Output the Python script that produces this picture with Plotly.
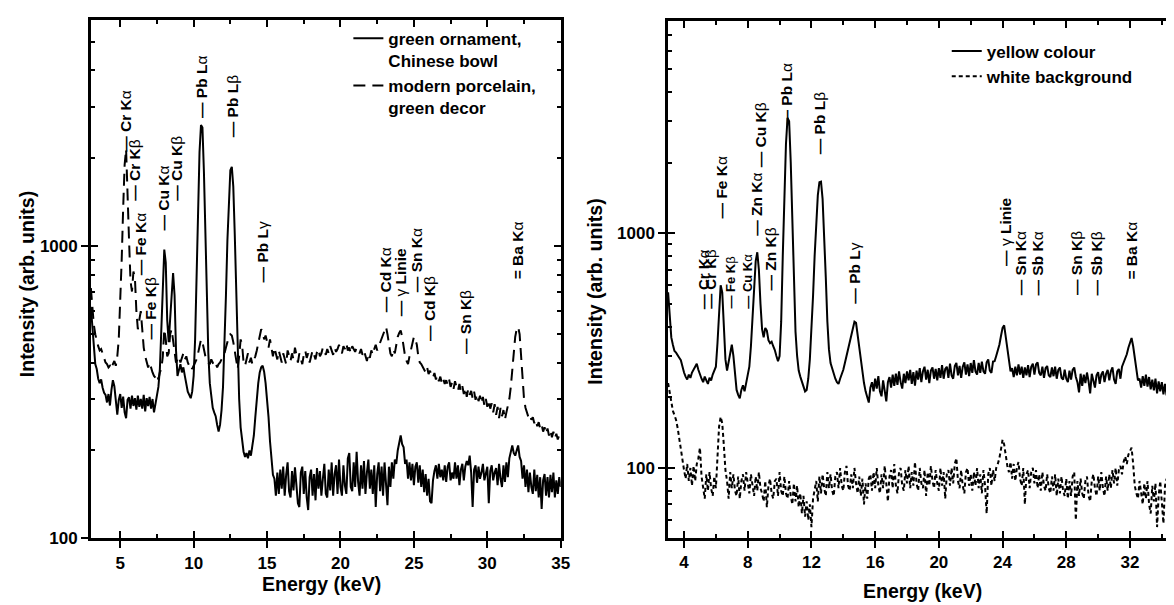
import plotly.graph_objects as go

# ---------------- DATA ----------------
# energy grid (keV), 0.1 keV channels from 3.0 to 35.0
energy = [round(3.0 + 0.1 * i, 1) for i in range(321)]

# Left panel: green ornament, Chinese bowl (solid)
green_ornament = [
    620, 520, 450, 395, 380, 352, 340, 350, 328, 315,
    310, 292, 312, 285, 322, 348, 332, 302, 265, 298,
    312, 280, 306, 270, 258, 298, 304, 278, 308, 284,
    302, 276, 308, 282, 300, 278, 310, 272, 302, 284,
    305, 278, 300, 270, 292, 305, 330, 380, 520, 760,
    975, 880, 560, 470, 560, 720, 810, 680, 440, 360,
    380, 395, 370, 385, 360, 340, 318, 310, 302, 318,
    360, 480, 800, 1350, 2100, 2600, 2550, 1800, 1050, 640,
    430, 340, 300, 280, 270, 262, 245, 232, 245, 275,
    330, 450, 680, 1050, 1500, 1820, 1870, 1600, 1100, 700,
    430, 300, 240, 212, 198, 190, 196, 188, 200, 192,
    205, 225, 260, 300, 340, 370, 385, 390, 372, 340,
    300, 260, 215, 180, 165, 160, 140, 168, 142, 172,
    148, 176, 140, 165, 182, 145, 138, 170, 146, 175,
    150, 132, 128, 168, 176, 142, 170, 138, 125, 162,
    172, 140, 166, 135, 174, 148, 170, 140, 160, 180,
    142, 138, 172, 146, 182, 140, 166, 178, 142, 186,
    150, 140, 178, 152, 142, 188, 196, 150, 145, 182,
    150, 198, 156, 140, 178, 148, 184, 142, 168, 186,
    148, 172, 142, 178, 128, 166, 182, 145, 176, 140,
    182, 150, 130, 176, 150, 182, 160, 186, 180, 200,
    212, 225, 210, 205, 180, 186, 160, 182, 158, 180,
    152, 176, 182, 155, 178, 150, 172, 144, 166, 140,
    160, 134, 132, 158, 170, 178, 160, 180, 162, 172,
    158, 178, 156, 176, 182, 158, 168, 160, 182, 160,
    178, 152, 172, 180, 158, 176, 184, 178, 192, 168,
    128, 172, 178, 155, 176, 160, 168, 180, 158, 166,
    176, 132, 170, 178, 158, 168, 174, 152, 180, 160,
    150, 178, 156, 182, 162, 188, 200, 208, 196, 192,
    200, 208, 190, 184, 160, 178, 150, 172, 144, 168,
    150, 142, 172, 145, 165, 138, 162, 126, 158, 166,
    140, 162, 138, 165, 144, 168, 138, 158, 142, 162,
    150,
]

# Left panel: modern porcelain, green decor (dashed)
modern_porcelain = [
    720, 620, 540, 500, 470, 455, 440, 445, 430, 410,
    400, 395, 385, 390, 380, 395, 405, 390, 420, 480,
    620, 900, 1350, 1900, 2150, 1600, 1050, 760, 700, 820,
    780, 600, 520, 560, 600, 520, 450, 420, 400, 385,
    400, 380, 370, 360, 355, 365, 350, 370, 380, 420,
    520, 480, 420, 430, 500, 520, 470, 420, 400, 410,
    420, 400, 415, 430, 410, 420, 400, 390, 395, 380,
    390, 400, 410, 430, 460, 480, 470, 440, 420, 405,
    400, 395, 410, 400, 390, 398, 385, 395, 400, 410,
    420, 430, 450, 470, 490, 500, 495, 470, 440, 400,
    380, 420, 480, 460, 400, 390, 410, 430, 400, 415,
    395, 405, 420, 440, 470, 500, 520, 510, 480, 495,
    470, 450, 480, 440, 420, 450, 430, 410, 440, 420,
    400, 430, 415, 395, 440, 420, 405, 430, 410, 450,
    420, 400, 430, 410, 395, 425, 440, 415, 430, 400,
    420, 440, 425, 410, 435, 445, 420, 430, 450, 435,
    425, 445, 430, 455, 440, 425, 450, 435, 445, 460,
    440, 430, 455, 445, 465, 440, 450, 430, 455, 445,
    435, 450, 440, 430, 445, 425, 440, 420, 405, 430,
    415, 440, 425, 445, 460, 440, 455, 470, 480, 500,
    520, 530, 500, 460, 430, 420, 445, 430, 460, 490,
    505, 515, 490, 450, 420, 405, 395, 420, 445, 470,
    490, 480, 460, 420, 400, 395, 385, 380, 370, 385,
    365, 375, 360, 355, 368, 350, 362, 345, 358, 340,
    352, 338, 348, 335, 350, 330, 342, 325, 345, 330,
    320, 338, 318, 332, 312, 328, 305, 325, 310, 320,
    302, 318, 298, 312, 295, 308, 290, 305, 285, 300,
    282, 298, 278, 290, 270, 288, 265, 282, 258, 280,
    262, 275, 255, 270, 285, 300, 330, 380, 440, 490,
    520, 530, 500, 430, 350, 300, 280, 270, 260, 265,
    255, 260, 248, 255, 242, 250, 238, 245, 232, 240,
    228, 238, 225, 235, 222, 232, 220, 228, 218, 226,
    230,
]

# Right panel: yellow colour (solid)
yellow_colour = [
    560, 420, 360, 335, 315, 310, 300, 295, 288, 270,
    255, 245, 238, 250, 242, 255, 262, 270, 278, 262,
    248, 240, 232, 245, 236, 228, 242, 236, 250, 258,
    270, 340, 480, 600, 560, 400, 290, 260, 280, 310,
    335, 300, 250, 215, 205, 198, 215, 225, 212, 230,
    250, 270, 330, 420, 560, 760, 830, 700, 500, 390,
    360, 395, 385, 350, 340, 345, 330, 318, 300, 285,
    300, 420, 800, 1500, 2400, 3100, 3000, 2000, 1100, 600,
    380, 300, 260, 245, 232, 222, 212, 215, 240, 290,
    380, 540, 800, 1150, 1450, 1650, 1660, 1400, 1000, 650,
    420, 320, 280, 265, 250, 240, 232, 228, 240, 250,
    262, 280, 300, 320, 345, 370, 395, 420, 415, 370,
    320, 280, 250, 230, 212, 200, 190, 220, 232, 212,
    240, 218, 246, 212, 202, 236, 208, 192, 232, 244,
    220, 250, 224, 252, 226, 258, 232, 218, 252, 230,
    258, 236, 262, 228, 256, 224, 260, 238, 266, 232,
    258, 270, 238, 262, 230, 260, 268, 240, 264, 236,
    266, 242, 274, 240, 264, 270, 242, 278, 248, 240,
    272, 280, 248, 272, 242, 270, 282, 250, 276, 246,
    280, 254, 288, 258, 250, 280, 254, 284, 258, 252,
    282, 290, 260, 254, 284, 285, 300, 315, 335, 365,
    395, 405, 360, 310, 280, 258, 266, 244, 270, 248,
    276, 250, 270, 242, 268, 248, 274, 244, 270, 278,
    250, 276, 282, 254, 248, 270, 242, 266, 272, 248,
    244, 268, 246, 270, 240, 262, 268, 242, 238, 262,
    240, 232, 260, 238, 262, 268, 244, 232, 210, 252,
    224, 250, 230, 255, 234, 208, 252, 232, 220, 248,
    256, 228, 250, 258, 232, 252, 262, 236, 258, 268,
    238, 228, 258, 264, 240, 270, 280, 290, 305, 325,
    345, 358, 330, 290, 258, 236, 240, 220, 246, 224,
    250, 222, 244, 216, 238, 214, 240, 208, 234, 212,
    232, 206, 228, 204, 226, 200, 224, 204, 220, 200,
    210,
]

# Right panel: white background (short dashes)
white_background = [
    230, 210, 190, 175, 168, 160, 148, 132, 118, 108,
    98, 90, 104, 88, 100, 84, 102, 88, 104, 110,
    122, 92, 80, 74, 94, 80, 96, 82, 76, 92,
    82, 110, 150, 165, 155, 125, 98, 88, 74, 96,
    82, 94, 80, 76, 92, 74, 88, 94, 80, 96,
    86, 78, 94, 82, 76, 92, 80, 96, 82, 78,
    72, 88, 68, 84, 90, 78, 74, 88, 90, 76,
    96, 80, 76, 92, 78, 74, 88, 76, 70, 86,
    72, 84, 68, 78, 64, 76, 62, 72, 60, 70,
    56, 74, 80, 88, 72, 92, 78, 94, 82, 76,
    96, 82, 94, 80, 76, 92, 96, 82, 100, 84,
    80, 96, 102, 84, 80, 94, 82, 100, 86, 78,
    92, 76, 90, 70, 86, 74, 90, 94, 80, 96,
    82, 100, 84, 78, 94, 82, 102, 86, 72, 92,
    98, 82, 104, 84, 78, 96, 100, 84, 80, 98,
    86, 102, 82, 96, 84, 106, 86, 80, 100, 86,
    82, 98, 76, 96, 84, 102, 88, 82, 98, 86,
    80, 100, 84, 96, 74, 94, 98, 84, 100, 86,
    104, 110, 88, 82, 98, 84, 78, 96, 100, 84,
    94, 80, 96, 84, 100, 82, 94, 78, 98, 84,
    64, 94, 100, 84, 98, 88, 100, 104, 110, 120,
    132, 126, 112, 102, 96, 106, 90, 104, 88, 100,
    106, 90, 84, 100, 70, 94, 98, 82, 96, 100,
    86, 98, 82, 94, 80, 96, 84, 80, 94, 82,
    78, 92, 80, 94, 76, 90, 78, 92, 80, 76,
    90, 74, 88, 76, 92, 96, 60, 88, 76, 90,
    78, 74, 88, 92, 76, 72, 88, 94, 82, 76,
    92, 80, 96, 82, 76, 92, 80, 94, 82, 98,
    86, 100, 84, 98, 102, 94, 106, 112, 104, 114,
    118, 122, 104, 84, 78, 74, 88, 76, 70, 86,
    74, 88, 70, 64, 84, 72, 86, 56, 76, 88,
    72, 58, 84, 90, 74, 86, 72, 88, 76, 90,
    82,
]

# tick values / labels
left_x_ticks = [5, 10, 15, 20, 25, 30, 35]
left_x_minor = [7.5, 12.5, 17.5, 22.5, 27.5, 32.5]
right_x_ticks = [4, 8, 12, 16, 20, 24, 28, 32]
right_x_minor = [6, 10, 14, 18, 22, 26, 30, 34]
y_ticks = [100, 1000]
y_tick_text = ["100", "1000"]
left_y_minor = [200, 300, 400, 500, 600, 700, 800, 900, 2000, 3000, 4000, 5000]
right_y_minor = [60, 70, 80, 90, 200, 300, 400, 500, 600, 700, 800, 900,
                 2000, 3000, 4000, 5000, 6000, 7000, 8000]

# line labels (text, energy)
left_line_labels = ["= Ba Kα", "— Cr Kα", "— Cr Kβ", "— Fe Kα", "— Fe Kβ", "— Cu Kα", "— Cu Kβ",
                    "— Pb Lα", "— Pb Lβ", "— Pb Lγ", "— Cd Kα", "— γ Linie", "— Sn Kα",
                    "— Cd Kβ", "— Sn Kβ"]
left_line_energy = [32.08, 5.34, 6.01, 6.40, 7.03, 7.97, 8.83, 10.49, 12.64, 14.69,
                    23.09, 24.09, 25.14, 26.10, 28.47]
right_line_labels = ["= Ba Kα", "— Cr Kα", "— Cr Kβ", "— Fe Kα", "— Fe Kβ", "— Cu Kα", "— Zn Kα",
                     "— Cu Kβ", "— Zn Kβ", "— Pb Lα", "— Pb Lβ", "— Pb Lγ", "— γ Linie",
                     "— Sn Kα", "— Sb Kα", "— Sn Kβ", "— Sb Kβ"]
right_line_energy = [32.07, 5.27, 5.69, 6.32, 6.93, 7.97, 8.53, 8.80, 9.45, 10.43, 12.52,
                     14.68, 24.17, 25.10, 26.18, 28.60, 29.88]

# ---------------- LAYOUT ----------------
W, H = 1174, 605
FONT = "Liberation Sans, Arial, Helvetica, sans-serif"


def pxx(p):
    return p / W


def pxy(p):
    return 1 - p / H


# label bottom positions (px from top) and font sizes, in label order
left_label_bottom = [277, 147, 197, 273, 338, 227, 197, 113, 132, 280, 310, 315, 290, 340, 353]
left_label_size = [15.5] * 15
right_label_bottom = [277, 307, 307, 215, 307, 307, 233, 163, 288, 120, 150, 302, 263,
                      293, 293, 293, 293]
right_label_size = [15.5, 15, 15, 15.5, 13, 13, 15.5, 15.5, 15.5, 15.5, 15.5, 15.5, 15.5,
                    15.5, 15.5, 15.5, 15.5]


def greek(s):
    for g in "αβγ":
        s = s.replace(g, "<span style='font-weight:normal'>" + g + "</span>")
    return s


fig = go.Figure()
fig.add_trace(go.Scatter(x=energy, y=green_ornament, mode="lines",
                         name="green ornament,<br>Chinese bowl",
                         line=dict(color="black", width=2),
                         xaxis="x", yaxis="y", legend="legend"))
fig.add_trace(go.Scatter(x=energy, y=modern_porcelain, mode="lines",
                         name="modern porcelain,<br>green decor",
                         line=dict(color="black", width=2, dash="12px,7px"),
                         xaxis="x", yaxis="y", legend="legend"))
fig.add_trace(go.Scatter(x=energy, y=yellow_colour, mode="lines",
                         name="yellow colour",
                         line=dict(color="black", width=2),
                         xaxis="x2", yaxis="y2", legend="legend2"))
fig.add_trace(go.Scatter(x=energy, y=white_background, mode="lines",
                         name="white background",
                         line=dict(color="black", width=2, dash="4px,3px"),
                         xaxis="x2", yaxis="y2", legend="legend2"))
# helper traces that carry the inner tick axes
fig.add_trace(go.Scatter(x=[None], y=[None], mode="lines", xaxis="x3", yaxis="y3",
                         showlegend=False, hoverinfo="skip"))
fig.add_trace(go.Scatter(x=[None], y=[None], mode="lines", xaxis="x4", yaxis="y4",
                         showlegend=False, hoverinfo="skip"))

tickfont = dict(family=FONT, size=17, color="black", weight="bold")
L_DOM_X = [pxx(83.5), pxx(557)]
L_DOM_Y = [pxy(539.3), pxy(12.7)]
R_DOM_X = [pxx(665.2), 1.0]
R_DOM_Y = [pxy(539), pxy(13.3)]
L_XR = [3, 35]
R_XR = [3, 3 + (1174 - 665.2) / 16.05]
L_YR = [2, 3.773]
R_YR = [1.7013, 3.9037]

main_common = dict(showline=True, linewidth=2.5, linecolor="black", ticks="outside",
                   ticklen=7, tickwidth=2, tickcolor="black", showgrid=False,
                   zeroline=False, tickfont=tickfont, tickmode="array")
inner_common = dict(showline=False, ticks="inside", ticklen=7, tickwidth=2,
                    tickcolor="black", showgrid=False, zeroline=False,
                    showticklabels=False, mirror="ticks", tickmode="array")

fig.update_layout(
    width=W, height=H, margin=dict(l=0, r=0, t=0, b=0),
    plot_bgcolor="white", paper_bgcolor="white",
    font=dict(family=FONT, color="black"),
    xaxis=dict(domain=L_DOM_X, range=L_XR, anchor="y", mirror=True,
               tickvals=left_x_ticks, **main_common),
    yaxis=dict(domain=L_DOM_Y, range=L_YR, type="log", anchor="x", mirror=True,
               tickvals=y_ticks, ticktext=y_tick_text, **main_common),
    xaxis2=dict(domain=R_DOM_X, range=R_XR, anchor="y2", mirror=True,
                tickvals=right_x_ticks, **main_common),
    yaxis2=dict(domain=R_DOM_Y, range=R_YR, type="log", anchor="x2", mirror=False,
                tickvals=y_ticks, ticktext=y_tick_text, **main_common),
    xaxis3=dict(overlaying="x", anchor="y", range=L_XR, side="bottom",
                tickvals=left_x_ticks,
                minor=dict(tickmode="array", tickvals=left_x_minor, ticks="inside",
                           ticklen=4, tickwidth=2, tickcolor="black", showgrid=False),
                **inner_common),
    yaxis3=dict(overlaying="y", anchor="x", range=L_YR, type="log", side="left",
                tickvals=y_ticks,
                minor=dict(tickmode="array", tickvals=left_y_minor, ticks="inside",
                           ticklen=4, tickwidth=2, tickcolor="black", showgrid=False),
                **inner_common),
    xaxis4=dict(overlaying="x2", anchor="y2", range=R_XR, side="bottom",
                tickvals=right_x_ticks,
                minor=dict(tickmode="array", tickvals=right_x_minor, ticks="inside",
                           ticklen=4, tickwidth=2, tickcolor="black", showgrid=False),
                **inner_common),
    yaxis4=dict(overlaying="y2", anchor="x2", range=R_YR, type="log", side="left",
                tickvals=y_ticks,
                minor=dict(tickmode="array", tickvals=right_y_minor, ticks="inside",
                           ticklen=4, tickwidth=2, tickcolor="black", showgrid=False),
                **inner_common),
    legend=dict(x=pxx(343), y=pxy(13), xanchor="left", yanchor="top",
                font=dict(family=FONT, size=17, color="black", weight="bold"),
                bgcolor="rgba(0,0,0,0)", valign="top", tracegroupgap=0),
    legend2=dict(x=pxx(946), y=pxy(26), xanchor="left", yanchor="top",
                 font=dict(family=FONT, size=17, color="black", weight="bold"),
                 bgcolor="rgba(0,0,0,0)", valign="top", tracegroupgap=0),
    showlegend=True,
)

annotations = []
for txt, e, b, s in zip(left_line_labels, left_line_energy, left_label_bottom, left_label_size):
    annotations.append(dict(text=greek(txt), x=e, xref="x", y=pxy(b), yref="paper",
                            xanchor="center", yanchor="bottom", textangle=-90,
                            showarrow=False, borderpad=0,
                            font=dict(family=FONT, size=s, color="black", weight="bold")))
for txt, e, b, s in zip(right_line_labels, right_line_energy, right_label_bottom, right_label_size):
    annotations.append(dict(text=greek(txt), x=e, xref="x2", y=pxy(b), yref="paper",
                            xanchor="center", yanchor="bottom", textangle=-90,
                            showarrow=False, borderpad=0,
                            font=dict(family=FONT, size=s, color="black", weight="bold")))

title_font = dict(family=FONT, size=19.5, color="black", weight="bold")
annotations += [
    dict(text="Energy (keV)", x=pxx(316), y=pxy(586), xref="paper", yref="paper",
         xanchor="center", yanchor="middle", showarrow=False, font=title_font),
    dict(text="Energy (keV)", x=pxx(922), y=pxy(593), xref="paper", yref="paper",
         xanchor="center", yanchor="middle", showarrow=False, font=title_font),
    dict(text="Intensity (arb. units)", x=pxx(20), y=pxy(281), xref="paper", yref="paper",
         xanchor="center", yanchor="middle", textangle=-90, showarrow=False, font=title_font),
    dict(text="Intensity (arb. units)", x=pxx(592), y=pxy(288), xref="paper", yref="paper",
         xanchor="center", yanchor="middle", textangle=-90, showarrow=False, font=title_font),
]
fig.update_layout(annotations=annotations)

fig.write_html("out.html")
